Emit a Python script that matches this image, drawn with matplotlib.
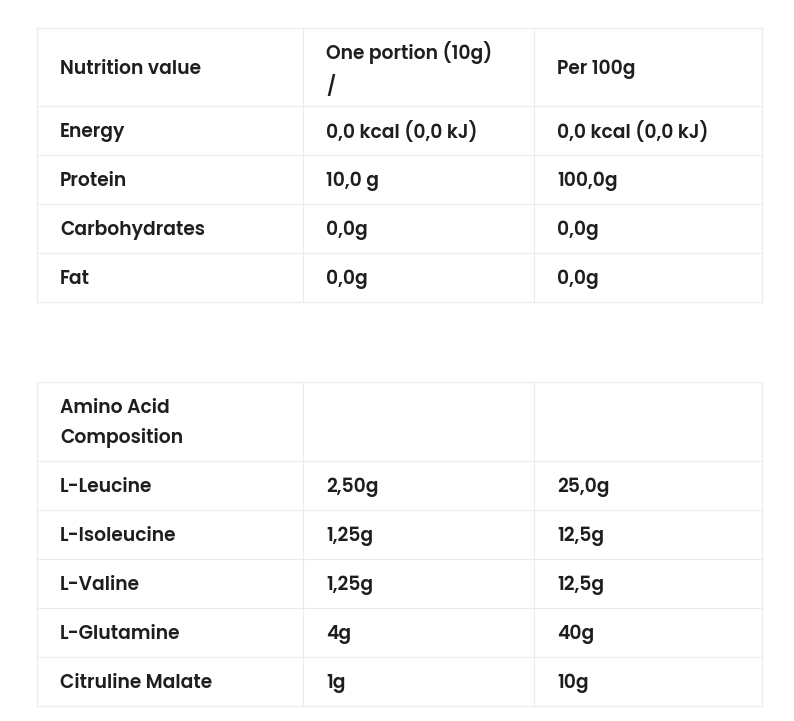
import matplotlib
matplotlib.use("Agg")
import matplotlib.pyplot as plt

header1 = ["Nutrition value", "One portion (10g)\n/", "Per 100g"]
rows1_names = ["Energy", "Protein", "Carbohydrates", "Fat"]
rows1_portion = ["0,0 kcal (0,0 kJ)", "10,0 g", "0,0g", "0,0g"]
rows1_100g = ["0,0 kcal (0,0 kJ)", "100,0g", "0,0g", "0,0g"]

header2 = ["Amino Acid\nComposition", "", ""]
rows2_names = ["L-Leucine", "L-Isoleucine", "L-Valine", "L-Glutamine", "Citruline Malate"]
rows2_portion = ["2,50g", "1,25g", "1,25g", "4g", "1g"]
rows2_100g = ["25,0g", "12,5g", "12,5g", "40g", "10g"]

fig = plt.figure(figsize=(7.94, 7.21), dpi=100)
ax = fig.add_axes([0, 0, 1, 1])
ax.set_xlim(0, 794); ax.set_ylim(721, 0); ax.axis("off")

cols = [37, 303, 534, 762]
line_c = "#ebebeb"
txt_c = "#1e1e1e"
font = dict(family=["Poppins", "Lato", "DejaVu Sans"], fontsize=13.5, color=txt_c)

def draw_table(top, header_h, row_h, header, names, p, h):
    n = len(names)
    ys = [top, top + header_h] + [top + header_h + row_h * (i + 1) for i in range(n)]
    for y in ys:
        ax.plot([cols[0], cols[-1]], [y, y], color=line_c, lw=0.8)
    for x in cols:
        ax.plot([x, x], [ys[0], ys[-1]], color=line_c, lw=0.8)
    rows = [header] + [[a, b, c] for a, b, c in zip(names, p, h)]
    for i, r in enumerate(rows):
        yc = (ys[i] + ys[i + 1]) / 2 + 2
        for j, t in enumerate(r):
            if j == 1 and i == 0 and "\n" in t:
                ax.text(cols[j] + 23, ys[i] + 13, t, va="top", ha="left",
                        linespacing=1.65, fontweight="semibold", **font)
            else:
                ax.text(cols[j] + 23, yc, t, va="center", ha="left",
                        linespacing=1.65, fontweight="semibold", **font)

draw_table(28, 78, 49, header1, rows1_names, rows1_portion, rows1_100g)
draw_table(382, 79, 49, header2, rows2_names, rows2_portion, rows2_100g)

fig.savefig("out.png", dpi=100, facecolor="white")
